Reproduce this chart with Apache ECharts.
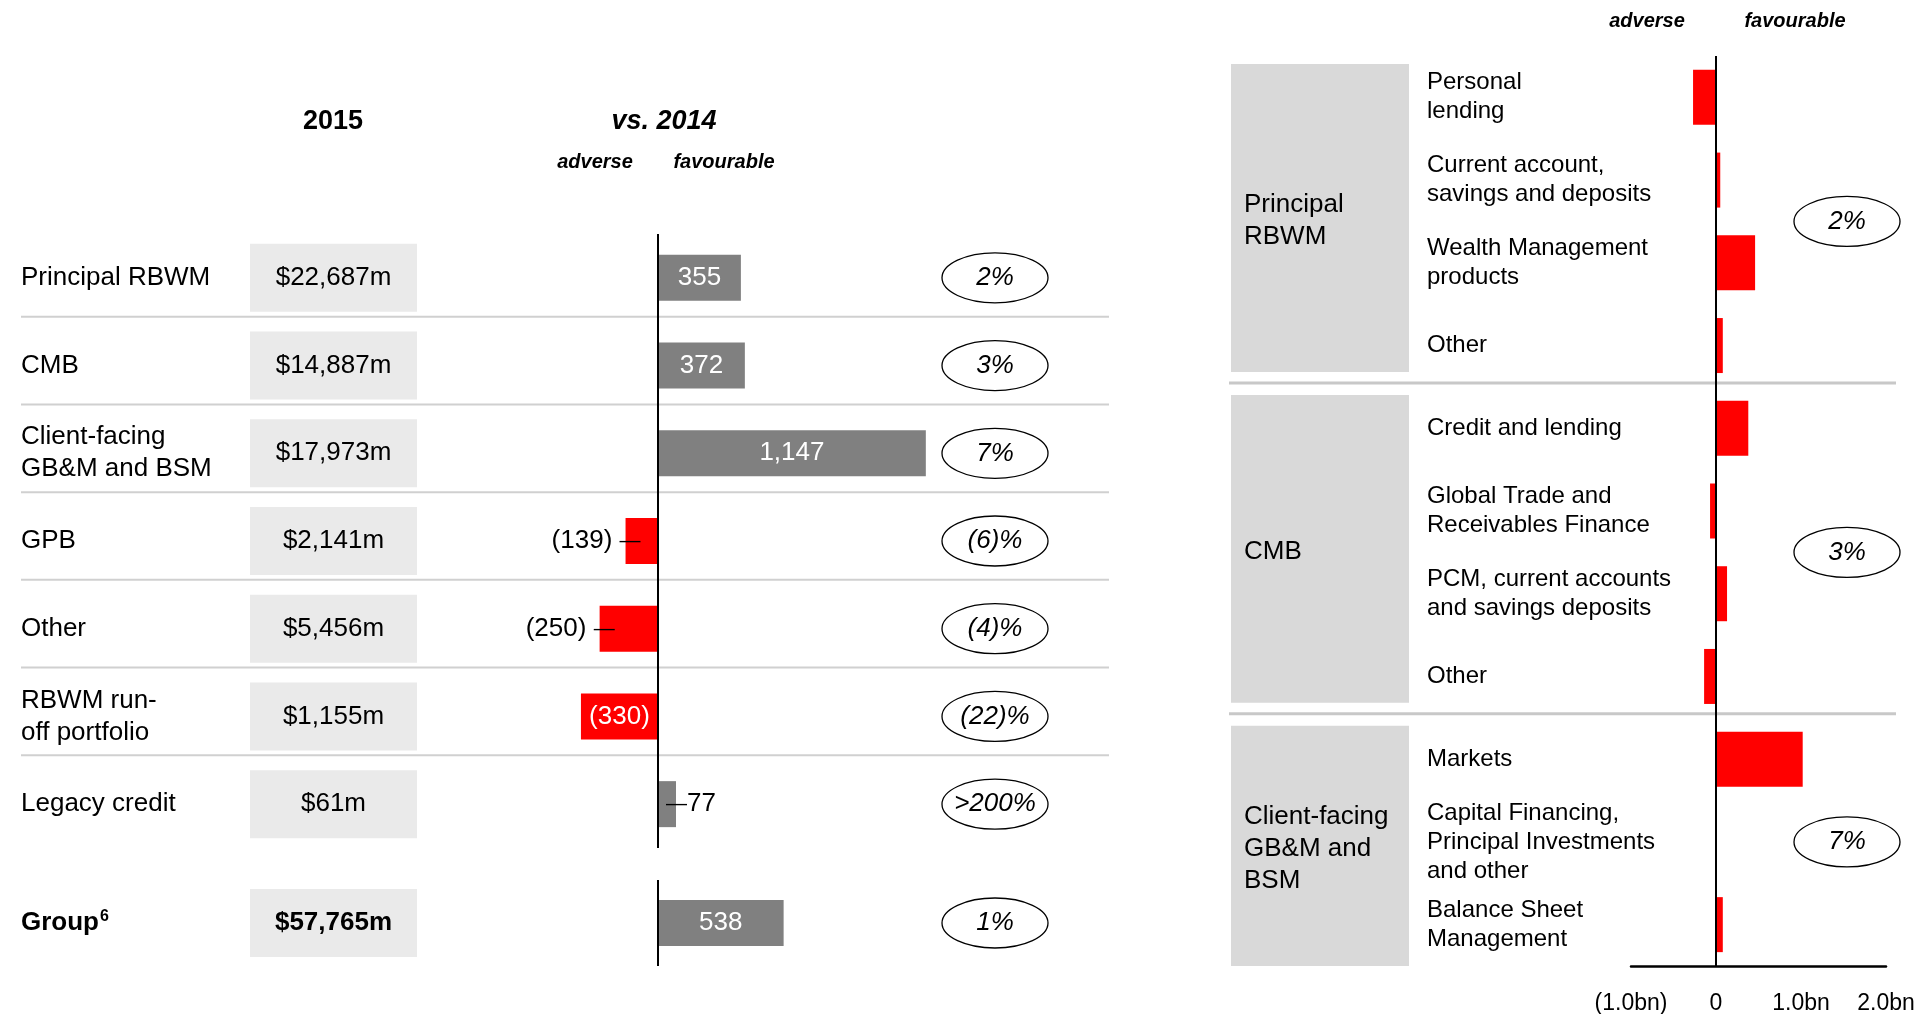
<!DOCTYPE html>
<html>
<head>
<meta charset="utf-8">
<title>Revenue 2015 vs 2014</title>
<script src="https://cdn.jsdelivr.net/npm/echarts@6/dist/echarts.min.js"></script>
<style>
  html, body { margin: 0; padding: 0; background: #fff; }
  #chart { width: 1918px; height: 1014px; }
</style>
</head>
<body>
<div id="chart"></div>
<script>
// left table: global businesses
const segments = ['Principal RBWM', 'CMB', 'Client-facing\nGB&M and BSM', 'GPB', 'Other', 'RBWM run-\noff portfolio', 'Legacy credit'];
const revenue2015 = ['$22,687m', '$14,887m', '$17,973m', '$2,141m', '$5,456m', '$1,155m', '$61m'];
const changeVs2014 = [355, 372, 1147, -139, -250, -330, 77];
const changePct = ['2%', '3%', '7%', '(6)%', '(4)%', '(22)%', '>200%'];

const groupName = 'Group';
const groupNote = '6';
const groupRevenue = '$57,765m';
const groupChange = 538;
const groupPct = '1%';

// right panel: product breakdown
const divisions = ['Principal\nRBWM', 'CMB', 'Client-facing\nGB&M and\nBSM'];
const divisionSize = [4, 4, 3];
const divisionPct = ['2%', '3%', '7%'];
const products = [
  'Personal\nlending', 'Current account,\nsavings and deposits', 'Wealth Management\nproducts', 'Other',
  'Credit and lending', 'Global Trade and\nReceivables Finance', 'PCM, current accounts\nand savings deposits', 'Other',
  'Markets', 'Capital Financing,\nPrincipal Investments\nand other', 'Balance Sheet\nManagement'
];
const productChange = [-270, 50, 460, 80, 380, -70, 130, -140, 1020, 5, 80];
const bnTicks = ['(1.0bn)', '0', '1.0bn', '2.0bn'];

const FONT = "'Liberation Sans', Arial, Helvetica, sans-serif";
const GREY = '#808080';
const RED = '#ff0000';

// left panel geometry (px)
const L_LEFT = 21, L_RIGHT = 1109, L_ZERO = 658, L_SCALE = 0.2335;
const BOX_GAP = 229; // from row label start to the 2015 box
const lMin = (L_LEFT - L_ZERO) / L_SCALE;
const lMax = (L_RIGHT - L_ZERO) / L_SCALE;

let chart = echarts.init(document.getElementById('chart'));

function fmt(v) {
  let s = Math.abs(v).toLocaleString('en-US');
  return v < 0 ? '(' + s + ')' : s;
}

function barItem(v) {
  let label;
  if (Math.abs(v) >= 300) {
    label = { position: 'inside', color: '#fff', formatter: () => fmt(v) };
  } else if (v < 0) {
    label = { position: 'left', distance: -15, formatter: () => '{t|' + fmt(v) + ' }{d|\u2014}' };
  } else {
    label = { position: 'right', distance: -10, formatter: () => '{d|\u2014}{t|' + fmt(v) + '}' };
  }
  return { value: v, itemStyle: { color: v < 0 ? RED : GREY }, label: label };
}

const barLabel = {
  show: true, fontSize: 26, fontFamily: FONT,
  rich: {
    t: { fontSize: 26, fontFamily: FONT, color: '#000' },
    d: { fontSize: 21, fontFamily: FONT, color: '#000' }
  }
};

const zeroLine = {
  silent: true, symbol: ['none', 'none'], label: { show: false },
  lineStyle: { color: '#000', width: 2, type: 'solid' },
  data: [{ xAxis: 0 }]
};

function oval(cx, cy, text) {
  return [
    { type: 'ellipse', shape: { cx: cx, cy: cy, rx: 53, ry: 25 }, style: { fill: '#fff', stroke: '#000', lineWidth: 1.3 } },
    { type: 'text', x: cx, y: cy, style: { text: text, fontSize: 26, fontStyle: 'italic', fontFamily: FONT, fill: '#000', align: 'center', verticalAlign: 'middle' } }
  ];
}

function ovalRenderer(labels) {
  return function (params, api) {
    let cs = params.coordSys;
    let cy = api.coord([0, api.value(1)])[1];
    return { type: 'group', children: oval(cs.x + cs.width - 114, cy, labels[params.dataIndex]) };
  };
}

function leftRules(params, api) {
  let cs = params.coordSys;
  let y = api.coord([0, api.value(1)])[1] + api.size([0, 1])[1] / 2 - 5;
  return { type: 'line', shape: { x1: cs.x, y1: y, x2: cs.x + cs.width, y2: y }, style: { stroke: '#d0d0d0', lineWidth: 2 } };
}

function renderDivision(params, api) {
  let cs = params.coordSys;
  let band = api.size([0, 1])[1];
  let first = api.value(1), last = api.value(2), k = params.dataIndex;
  let top = api.coord([0, first])[1] - band / 2;
  let bottom = api.coord([0, last])[1] + band / 2;
  let isLast = k === divisions.length - 1;
  let boxTop = top + 8;
  let boxBottom = isLast ? bottom : bottom - 15;
  let children = [
    { type: 'rect', shape: { x: cs.x - 400, y: boxTop, width: 178, height: boxBottom - boxTop }, style: { fill: '#d9d9d9' } },
    { type: 'text', x: cs.x - 387, y: (boxTop + boxBottom) / 2 + 3, style: { text: divisions[k], fontSize: 26, lineHeight: 32, fontFamily: FONT, fill: '#000', align: 'left', verticalAlign: 'middle' } }
  ];
  if (!isLast) {
    children.push({ type: 'line', shape: { x1: cs.x - 402, y1: bottom - 4, x2: cs.x + cs.width + 10, y2: bottom - 4 }, style: { stroke: '#c8c8c8', lineWidth: 3 } });
  }
  children = children.concat(oval(cs.x + 216, (top + bottom) / 2, divisionPct[k]));
  return { type: 'group', children: children };
}

// division spans over the product rows
let divisionSpans = [];
let start = 0;
divisionSize.forEach(function (n) {
  divisionSpans.push([0, start, start + n - 1]);
  start += n;
});

const catBase = {
  type: 'category', inverse: true, position: 'left',
  axisLine: { show: false }, axisTick: { show: false }, splitLine: { show: false }
};

function boxRich(bold) {
  return {
    sp: { width: BOX_GAP },
    box: { width: 167, height: 68, lineHeight: 68, align: 'center', backgroundColor: '#eaeaea', color: '#000', fontSize: 26, fontWeight: bold ? 'bold' : 'normal', fontFamily: FONT }
  };
}

let option = {
  animation: false,
  backgroundColor: '#fff',
  textStyle: { fontFamily: FONT },
  graphic: [
    { type: 'text', x: 333, y: 122, style: { text: '2015', fontSize: 27, fontWeight: 'bold', fontFamily: FONT, fill: '#000', align: 'center', verticalAlign: 'middle' } },
    { type: 'text', x: 664, y: 122, style: { text: 'vs. 2014', fontSize: 27, fontWeight: 'bold', fontStyle: 'italic', fontFamily: FONT, fill: '#000', align: 'center', verticalAlign: 'middle' } },
    { type: 'text', x: 595, y: 162, style: { text: 'adverse', fontSize: 20, fontWeight: 'bold', fontStyle: 'italic', fontFamily: FONT, fill: '#000', align: 'center', verticalAlign: 'middle' } },
    { type: 'text', x: 724, y: 162, style: { text: 'favourable', fontSize: 20, fontWeight: 'bold', fontStyle: 'italic', fontFamily: FONT, fill: '#000', align: 'center', verticalAlign: 'middle' } },
    { type: 'text', x: 1647, y: 21, style: { text: 'adverse', fontSize: 20, fontWeight: 'bold', fontStyle: 'italic', fontFamily: FONT, fill: '#000', align: 'center', verticalAlign: 'middle' } },
    { type: 'text', x: 1795, y: 21, style: { text: 'favourable', fontSize: 20, fontWeight: 'bold', fontStyle: 'italic', fontFamily: FONT, fill: '#000', align: 'center', verticalAlign: 'middle' } }
  ],
  grid: [
    { left: L_LEFT, right: 1918 - L_RIGHT, top: 234, height: 614, outerBoundsMode: 'none' },
    { left: L_LEFT, right: 1918 - L_RIGHT, top: 880, height: 86, outerBoundsMode: 'none' },
    { left: 1631, right: 32, top: 56, height: 910, outerBoundsMode: 'none' }
  ],
  xAxis: [
    { type: 'value', gridIndex: 0, min: lMin, max: lMax, show: false },
    { type: 'value', gridIndex: 1, min: lMin, max: lMax, show: false },
    {
      type: 'value', gridIndex: 2, min: -1000, max: 2000, interval: 1000,
      axisLine: { show: true, onZero: false, lineStyle: { color: '#000', width: 2.5 } },
      axisTick: { show: false }, splitLine: { show: false },
      axisLabel: { color: '#000', fontSize: 23, fontFamily: FONT, margin: 26, formatter: (v) => bnTicks[Math.round((v + 1000) / 1000)] }
    }
  ],
  yAxis: [
    Object.assign({}, catBase, {
      gridIndex: 0, data: segments,
      axisLabel: { interval: 0, align: 'left', margin: 0, color: '#000', fontSize: 26, lineHeight: 32, fontFamily: FONT }
    }),
    Object.assign({}, catBase, {
      gridIndex: 0, data: segments,
      axisLabel: {
        interval: 0, align: 'left', margin: 0,
        formatter: (v, i) => '{sp|}{box|' + revenue2015[i] + '}',
        rich: boxRich(false)
      }
    }),
    Object.assign({}, catBase, {
      gridIndex: 1, data: [groupName],
      axisLabel: {
        interval: 0, align: 'left', margin: 0,
        formatter: (v) => '{g|' + v + '}{s|' + groupNote + '}',
        rich: {
          g: { color: '#000', fontSize: 26, fontWeight: 'bold', fontFamily: FONT },
          s: { color: '#000', fontSize: 16, fontWeight: 'bold', fontFamily: FONT, verticalAlign: 'top', padding: [0, 0, 12, 1] }
        }
      }
    }),
    Object.assign({}, catBase, {
      gridIndex: 1, data: [groupName],
      axisLabel: {
        interval: 0, align: 'left', margin: 0,
        formatter: () => '{sp|}{box|' + groupRevenue + '}',
        rich: boxRich(true)
      }
    }),
    Object.assign({}, catBase, {
      gridIndex: 2, data: products.map((p, i) => String(i)),
      axisLabel: { interval: 0, align: 'left', margin: 204, color: '#000', fontSize: 24, lineHeight: 29, fontFamily: FONT, formatter: (v, i) => products[i] }
    })
  ],
  series: [
    {
      type: 'bar', xAxisIndex: 0, yAxisIndex: 0, barWidth: 46,
      data: changeVs2014.map(barItem), label: barLabel, markLine: zeroLine
    },
    {
      type: 'custom', xAxisIndex: 0, yAxisIndex: 0, silent: true,
      data: segments.slice(0, -1).map((s, i) => [0, i]), encode: { x: 0, y: 1 },
      renderItem: leftRules
    },
    {
      type: 'custom', xAxisIndex: 0, yAxisIndex: 0, silent: true,
      data: changePct.map((p, i) => [0, i]), encode: { x: 0, y: 1 },
      renderItem: ovalRenderer(changePct)
    },
    {
      type: 'bar', xAxisIndex: 1, yAxisIndex: 2, barWidth: 46,
      data: [barItem(groupChange)], label: barLabel, markLine: zeroLine
    },
    {
      type: 'custom', xAxisIndex: 1, yAxisIndex: 2, silent: true,
      data: [[0, 0]], encode: { x: 0, y: 1 },
      renderItem: ovalRenderer([groupPct])
    },
    {
      type: 'bar', xAxisIndex: 2, yAxisIndex: 4, barWidth: 55,
      itemStyle: { color: RED }, data: productChange, markLine: zeroLine
    },
    {
      type: 'custom', xAxisIndex: 2, yAxisIndex: 4, silent: true,
      data: divisionSpans, encode: { x: 0, y: [1, 2] },
      renderItem: renderDivision
    }
  ]
};

chart.setOption(option);
</script>
</body>
</html>
